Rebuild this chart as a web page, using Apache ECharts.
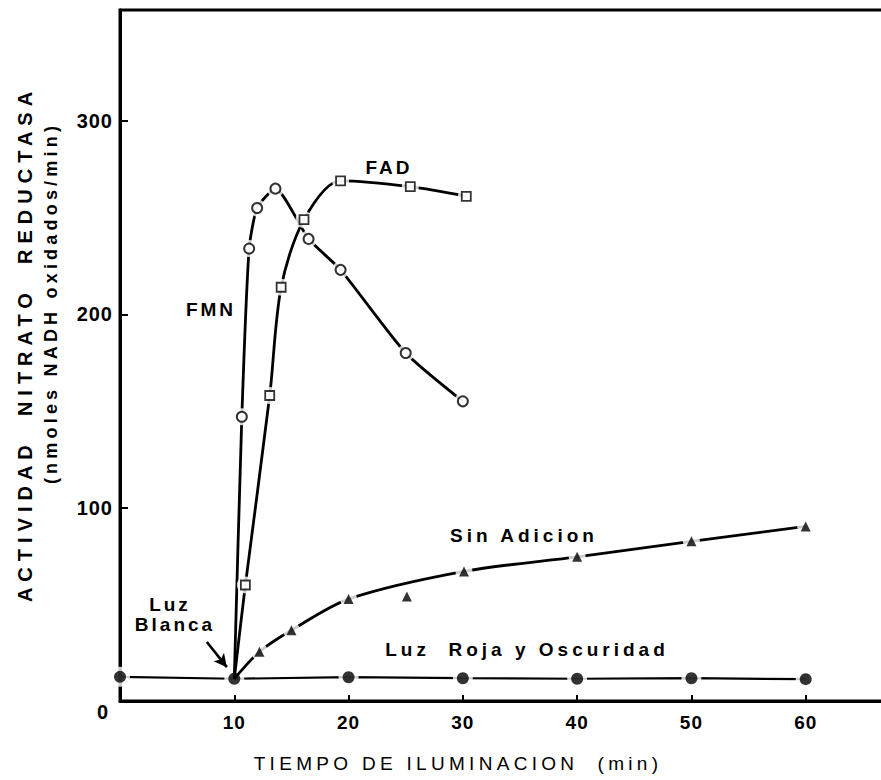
<!DOCTYPE html>
<html><head><meta charset="utf-8">
<script src="https://cdn.jsdelivr.net/npm/echarts@6/dist/echarts.min.js"></script>
<style>
html,body{margin:0;padding:0;background:#fff;}
#c{width:881px;height:780px;}
#c text{white-space:pre;}
#c text[style*="spA"]{letter-spacing:1px;}
#c text[style*="spB"]{letter-spacing:3px;}
#c text[style*="spC"]{letter-spacing:4.3px;}
#c text[style*="spD"]{letter-spacing:6px;}
#c text[style*="spE"]{letter-spacing:4.2px;}
#c text[style*="spF"]{letter-spacing:4px;}
</style></head><body><div id="c"></div>
<script>
// ---- data ----
const xTickValues = [10, 20, 30, 40, 50, 60];
const yTickValues = [100, 200, 300];

// Luz Roja y Oscuridad (filled circles)
const rojaX = [0, 10, 20, 30, 40, 50, 60];
const rojaY = [12.5, 11.5, 12.3, 11.8, 11.5, 11.8, 11.3];

// FMN (open circles)
const fmnX = [10.66, 11.3, 12.0, 13.6, 16.5, 19.3, 25.0, 30.0];
const fmnY = [147, 234, 255, 265, 239, 223, 180, 155];

// FAD (open squares)
const fadX = [10.97, 13.1, 14.1, 16.1, 19.3, 25.4, 30.3];
const fadY = [60, 158, 214, 249, 269, 266, 261];

// Sin Adicion (filled triangles)
const sinX = [12.2, 15.0, 20.0, 25.1, 30.1, 40.0, 50.0, 60.0];
const sinY = [25.5, 36.6, 52.7, 54.1, 67.0, 74.6, 82.6, 90.3];
// points the drawn curve passes through (the point at 25 lies off the curve)
const sinCurveX = [12.2, 15.0, 20.0, 30.1, 40.0, 50.0, 60.0];
const sinCurveY = [25.5, 36.6, 52.7, 67.0, 74.6, 82.6, 90.3];

// "Luz Blanca" start point (index in roja arrays) where the curves begin
const startIdx = 1;

// arrow annotation (data units)
const arrowFrom = [7.6, 30.5];
const arrowTo = [9.35, 17.5];

// ---- build ----
const zip = (xs, ys) => xs.map((x, i) => [x, ys[i]]);
const start = [rojaX[startIdx], rojaY[startIdx]];
const roja = zip(rojaX, rojaY);
const fmn = zip(fmnX, fmnY);
const fad = zip(fadX, fadY);
const sin = zip(sinX, sinY);
const sinCurve = zip(sinCurveX, sinCurveY);

const F = (tag) => 'Liberation Sans, ' + tag;
const lineW = 2.8;

const chart = echarts.init(document.getElementById('c'), null, {renderer: 'svg'});

const option = {
  animation: false,
  backgroundColor: '#fff',
  grid: {left: 120, top: 10, width: 800, height: 691, outerBoundsMode: 'none', containLabel: false,
    show: true, borderColor: '#000', borderWidth: 3, backgroundColor: 'transparent'},
  xAxis: {
    type: 'value', min: 0, max: 70, interval: 10,
    axisLine: {show: true, onZero: false, lineStyle: {color: '#000', width: 3}},
    axisTick: {show: true, inside: true, length: 6, lineStyle: {color: '#000', width: 2}},
    axisLabel: {color: '#000', fontSize: 19, fontWeight: 'bold', fontFamily: F('spA'), margin: 12,
      formatter: v => xTickValues.includes(v) ? String(v) : ''},
    splitLine: {show: false}
  },
  yAxis: {
    type: 'value', min: 0, max: 357.4, interval: 100,
    axisLine: {show: true, lineStyle: {color: '#000', width: 3}},
    axisTick: {show: true, inside: true, length: 8, lineStyle: {color: '#000', width: 2}},
    axisLabel: {color: '#000', fontSize: 20, fontWeight: 'bold', fontFamily: F('spA'), margin: 7, showMaxLabel: false,
      formatter: v => yTickValues.includes(v) ? String(v) : ''},
    splitLine: {show: false}
  },
  series: [
    {type: 'line', name: 'Luz Roja y Oscuridad', data: roja, symbol: 'none', z: 1,
      lineStyle: {color: '#000', width: 2.2},
      markLine: {silent: true, symbol: ['none', 'arrow'], symbolSize: [10, 13], label: {show: false},
        lineStyle: {color: '#000', width: 2.6, type: 'solid'},
        data: [[{coord: arrowFrom}, {coord: arrowTo}]]}},
    {type: 'scatter', data: roja, symbol: 'circle', symbolSize: 20, z: 2, silent: true,
      itemStyle: {color: '#fff'}},
    {type: 'line', name: 'FMN', data: [start].concat(fmn), symbol: 'none', smooth: 0.2, z: 3,
      lineStyle: {color: '#000', width: lineW}},
    {type: 'line', name: 'FAD', data: [start].concat(fad), symbol: 'none', smooth: 0.3, z: 3,
      lineStyle: {color: '#000', width: lineW}},
    {type: 'line', name: 'Sin Adicion', data: [start].concat(sinCurve), symbol: 'none', smooth: 0.3, z: 3,
      lineStyle: {color: '#000', width: lineW}},
    {type: 'scatter', data: fmn.concat(fad, sinCurve), symbol: 'circle', symbolSize: 17, z: 4, silent: true,
      itemStyle: {color: '#fff'}},
    {type: 'scatter', name: 'FMN pts', data: fmn, symbol: 'circle', symbolSize: 10, z: 5,
      itemStyle: {color: '#fff', borderColor: '#000', borderWidth: 2}},
    {type: 'scatter', name: 'FAD pts', data: fad, symbol: 'rect', symbolSize: 9, z: 5,
      itemStyle: {color: '#fff', borderColor: '#000', borderWidth: 1.8}},
    {type: 'scatter', name: 'Sin pts', data: sin, symbol: 'triangle', symbolSize: 10, z: 5,
      itemStyle: {color: '#000'}},
    {type: 'scatter', name: 'Roja pts', data: roja, symbol: 'circle', symbolSize: 12, z: 5,
      itemStyle: {color: '#000'}}
  ],
  graphic: [
    {type: 'text', x: 103, y: 712, style: {text: '0', font: 'bold 20px ' + F('spA'), fill: '#000', align: 'center', verticalAlign: 'middle'}},
    {type: 'text', x: 458, y: 763, style: {text: 'TIEMPO DE ILUMINACION  (min)', font: '19px ' + F('spC'), fill: '#000', align: 'center', verticalAlign: 'middle'}},
    {type: 'text', x: 25, y: 344, rotation: Math.PI / 2, style: {text: 'ACTIVIDAD  NITRATO  REDUCTASA', font: 'bold 20px ' + F('spD'), fill: '#000', align: 'center', verticalAlign: 'middle'}},
    {type: 'text', x: 51, y: 303, rotation: Math.PI / 2, style: {text: '(nmoles NADH oxidados/min)', font: 'bold 18px ' + F('spE'), fill: '#000', align: 'center', verticalAlign: 'middle'}},
    {type: 'text', x: 211, y: 309, style: {text: 'FMN', font: 'bold 19px ' + F('spB'), fill: '#000', align: 'center', verticalAlign: 'middle'}},
    {type: 'text', x: 389, y: 167, style: {text: 'FAD', font: 'bold 19px ' + F('spB'), fill: '#000', align: 'center', verticalAlign: 'middle'}},
    {type: 'text', x: 524, y: 535, style: {text: 'Sin Adicion', font: 'bold 19px ' + F('spF'), fill: '#000', align: 'center', verticalAlign: 'middle'}},
    {type: 'text', x: 527, y: 649, style: {text: 'Luz  Roja y Oscuridad', font: 'bold 19px ' + F('spF'), fill: '#000', align: 'center', verticalAlign: 'middle'}},
    {type: 'text', x: 170, y: 604, style: {text: 'Luz', font: 'bold 19px ' + F('spB'), fill: '#000', align: 'center', verticalAlign: 'middle'}},
    {type: 'text', x: 175, y: 624, style: {text: 'Blanca', font: 'bold 19px ' + F('spB'), fill: '#000', align: 'center', verticalAlign: 'middle'}}
  ]
};
chart.setOption(option);
</script>
</body></html>
